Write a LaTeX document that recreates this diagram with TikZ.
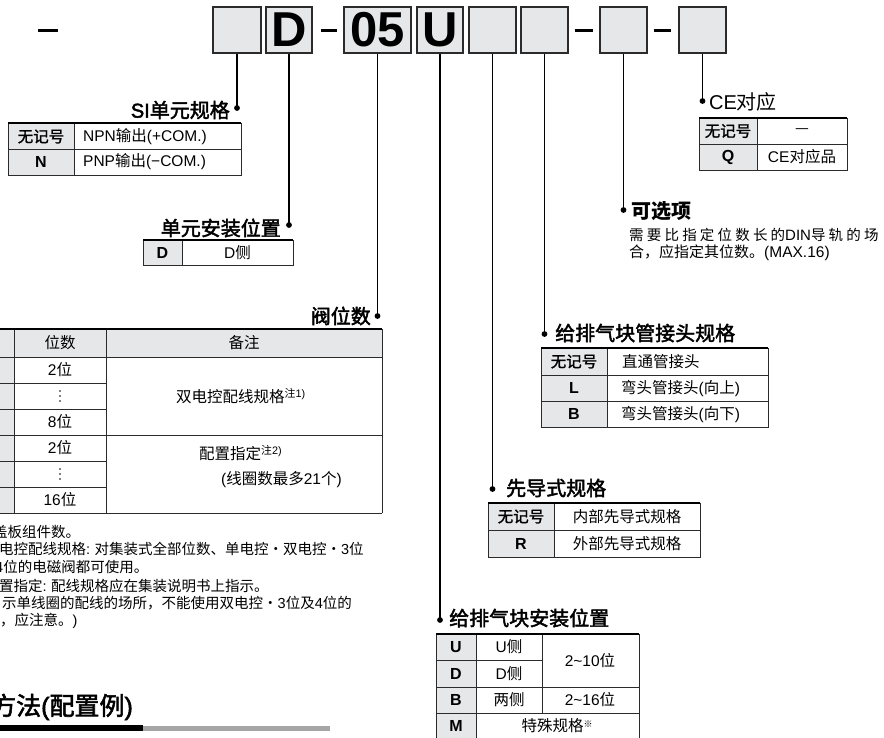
\documentclass[tikz,border=0pt]{standalone}
\usepackage{fontspec}
\setmainfont{Noto Sans CJK SC}
\newfontfamily\lat{Liberation Sans}
\newfontfamily\latmed{Liberation Sans}[FakeBold=2.2]
\newfontfamily\cjkmed{Noto Sans CJK SC}[FakeBold=2.2]
\newfontfamily\cjkcell{Noto Sans CJK SC}[FakeBold=1.6]
\newfontfamily\cjksp{Noto Sans CJK SC}[LetterSpace=22]
\definecolor{cellgray}{HTML}{E6E7E8}
\definecolor{boxline}{HTML}{2B2B2B}
\newcommand\fcell{\fontsize{15.5}{18}\selectfont}
\newcommand\fhead{\fontsize{20}{23}\selectfont\cjkmed}
\newcommand\fnote{\fontsize{14.5}{17}\selectfont}
\begin{document}
\begin{tikzpicture}[x=1pt,y=-1pt,
  box/.style={draw=boxline, line width=1.3pt, fill=cellgray, minimum width=#1,
    minimum height=46pt, inner sep=0pt, font=\lat\bfseries\fontsize{49}{49}\selectfont},
  box/.default=47pt,
  conn/.style={draw=black, line width=1.3pt},
  dotfill/.style={fill=black},
  tline/.style={draw=boxline, line width=0.9pt},
  ttop/.style={draw=black, line width=1.7pt},
  head/.style={inner sep=0pt, font=\fhead},
  cell/.style={inner sep=0pt, font=\fcell},
  cellb/.style={inner sep=0pt, font=\fcell\cjkcell},
  letter/.style={inner sep=0pt, font=\lat\bfseries\fontsize{16}{18}\selectfont},
  note/.style={inner sep=0pt, anchor=west, font=\fnote},
  thickdash/.style={draw=black, line width=3pt}
]
\useasboundingbox (0,0) rectangle (884,737);
\clip (0,0) rectangle (884,737);

% ---------- code boxes ----------
\node[box=48pt] (b1) at (237,30) {};
\node[box=46pt] (b2) at (289,30) {D};
\node[box=67pt] (b3) at (377.5,30) {05};
\node[box=46pt] (b4) at (440,30) {U};
\node[box] (b5) at (492.5,30) {};
\node[box] (b6) at (544.5,30) {};
\node[box] (b7) at (623.5,30) {};
\node[box] (b8) at (702.5,30) {};
\coordinate (m0a) at (38,30); \coordinate (m0b) at (58,30);
\draw[thickdash] (m0a) -- (m0b);
\draw[thickdash] ([xshift=8pt]b2.east) -- ([xshift=-6pt]b3.west);
\draw[thickdash] ([xshift=6pt]b6.east) -- ([xshift=-6pt]b7.west);
\draw[thickdash] ([xshift=6pt]b7.east) -- ([xshift=-7pt]b8.west);

% ---------- connector dots ----------
\coordinate (p1) at (237,108);
\coordinate (p2) at (289,225);
\coordinate (p3) at (377.5,316);
\coordinate (p4) at (440,620);
\coordinate (p5) at (492.5,489);
\coordinate (p6) at (544.5,334);
\coordinate (p7) at (623.5,210);
\coordinate (p8) at (702.5,101);
\foreach \i in {1,...,8}{
  \draw[conn] (b\i.south) -- (p\i);
  \fill[dotfill] (p\i) circle (2.9pt);
}

% ---------- SI unit ----------
\node[head, anchor=east] (h1) at (230,110) {{\latmed SI}单元规格};
\fill[cellgray] (8,123) rectangle (74,175);
\draw[tline] (8,123) rectangle (241,175);
\draw[tline] (8,149) -- (241,149);
\draw[tline] (74,123) -- (74,175);
\draw[ttop] (8,123) -- (241,123);
\node[cellb] (c11) at (41,136.5) {无记号};
\node[letter] (c12) at (41,162) {N};
\node[cell, anchor=west] (c13) at (83,136.5) {{\lat NPN}输出{\lat (+COM.)}};
\node[cell, anchor=west] (c14) at (83,162) {{\lat PNP}输出{\lat (−COM.)}};

% ---------- unit mounting ----------
\node[head, anchor=east] (h2) at (281,228) {单元安装位置};
\fill[cellgray] (143,240) rectangle (182,265);
\draw[tline] (143,240) rectangle (293,265);
\draw[tline] (182,240) -- (182,265);
\draw[ttop] (143,240) -- (293,240);
\node[letter] (c21) at (162.5,252.5) {D};
\node[cell] (c22) at (237.5,252.5) {{\lat D}侧};

% ---------- valve stations ----------
\node[head, anchor=east] (h3) at (371,316) {阀位数};
\fill[cellgray] (-40,329) rectangle (382,357);
\fill[cellgray] (-40,357) rectangle (14,513);
\draw[tline] (-40,357) -- (382,357);
\draw[tline] (-40,383) -- (106,383);
\draw[tline] (-40,409) -- (106,409);
\draw[tline] (-40,435) -- (382,435);
\draw[tline] (-40,461) -- (106,461);
\draw[tline] (-40,487) -- (106,487);
\draw[tline] (-40,513) -- (382,513);
\draw[tline] (14,329) -- (14,513);
\draw[tline] (106,329) -- (106,513);
\draw[tline] (382,329) -- (382,513);
\draw[ttop] (-40,329) -- (382,329);
\node[cell] (v0a) at (60,343) {位数};
\node[cell] (v0b) at (244,343) {备注};
\node[cell] (v1) at (60,370) {{\lat 2}位};
\coordinate (v2) at (60,396);
\foreach \dy in {-5,0,5} \fill ([yshift=\dy pt]v2) circle (0.85pt);
\node[cell] (v3) at (60,422) {{\lat 8}位};
\node[cell] (v4) at (60,448) {{\lat 2}位};
\coordinate (v5) at (60,474);
\foreach \dy in {-5,0,5} \fill ([yshift=\dy pt]v5) circle (0.85pt);
\node[cell] (v6) at (60,500) {{\lat 16}位};
\node[cell, anchor=west] (v7) at (176,396) {双电控配线规格\textsuperscript{注{\lat 1)}}};
\node[cell, anchor=west] (v8) at (199,453) {配置指定\textsuperscript{注{\lat 2)}}};
\node[cell, anchor=west] (v9) at (221,480) {{\lat (}线圈数最多{\lat 21}个{\lat )}};

% ---------- notes ----------
\node[note] (n1) at (-7,532) {盖板组件数。};
\node[note] (n2) at (-1,549) {电控配线规格{\lat :} 对集装式全部位数、单电控・双电控・{\lat 3}位};
\node[note] (n3) at (-5,567) {{\lat 4}位的电磁阀都可使用。};
\node[note] (n4) at (-1,586) {置指定{\lat :} 配线规格应在集装说明书上指示。};
\node[note] (n5) at (2,603) {示单线圈的配线的场所，不能使用双电控・{\lat 3}位及{\lat 4}位的};
\node[note] (n6) at (0,621) {，应注意。{\lat )}};

\node[inner sep=0pt, anchor=west, font=\fontsize{25}{28}\selectfont\cjkmed] (t1) at (-9,707) {方法{\latmed (}配置例{\latmed )}};
\fill[black] (-5,725) rectangle (143,731);
\fill[black!35] (143,726) rectangle (330,731);

% ---------- CE ----------
\node[inner sep=0pt, anchor=west, font=\fontsize{20}{23}\selectfont] (h8) at (709,102) {{\lat CE}对应};
\fill[cellgray] (699,118) rectangle (757,170);
\draw[tline] (699,118) rectangle (847,170);
\draw[tline] (699,144) -- (847,144);
\draw[tline] (757,118) -- (757,170);
\draw[ttop] (699,118) -- (847,118);
\node[cellb] (c81) at (728,131) {无记号};
\node[cell] (c82) at (802,131) {—};
\node[letter] (c83) at (728,157) {Q};
\node[cell] (c84) at (802,157) {{\lat CE}对应品};

% ---------- option ----------
\node[inner sep=0pt, anchor=west, font=\fontsize{20}{23}\selectfont\bfseries] (h7) at (631,211) {可选项};
\node[inner sep=0pt, anchor=west, font=\fontsize{14.5}{16}\selectfont] (o1) at (629,235)
  {\cjksp 需要比指定位数长的{\lat\fontsize{15}{16}\selectfont DIN}导轨的场};
\node[inner sep=0pt, anchor=west, font=\fontsize{15}{16}\selectfont] (o2) at (629,253)
  {合，应指定其位数。{\lat\fontsize{15.5}{16}\selectfont (MAX.16)}};

% ---------- fitting ----------
\node[head, anchor=west] (h6) at (555,333) {给排气块管接头规格};
\fill[cellgray] (541,348) rectangle (607,427);
\draw[tline] (541,348) rectangle (768,427);
\draw[tline] (541,375) -- (768,375);
\draw[tline] (541,401) -- (768,401);
\draw[tline] (607,348) -- (607,427);
\draw[ttop] (541,348) -- (768,348);
\node[cellb] (c61) at (574,361.5) {无记号};
\node[cell, anchor=west] (c62) at (622,361.5) {直通管接头};
\node[letter] (c63) at (574,388) {L};
\node[cell, anchor=west] (c64) at (621,388) {弯头管接头{\lat (}向上{\lat )}};
\node[letter] (c65) at (574,414) {B};
\node[cell, anchor=west] (c66) at (621,414) {弯头管接头{\lat (}向下{\lat )}};

% ---------- pilot ----------
\node[head, anchor=west] (h5) at (506,488) {先导式规格};
\fill[cellgray] (488,503) rectangle (554,557);
\draw[tline] (488,503) rectangle (700,557);
\draw[tline] (488,530) -- (700,530);
\draw[tline] (554,503) -- (554,557);
\draw[ttop] (488,503) -- (700,503);
\node[cellb] (c51) at (521,516.5) {无记号};
\node[cell] (c52) at (627,516.5) {内部先导式规格};
\node[letter] (c53) at (521,543.5) {R};
\node[cell] (c54) at (627,543.5) {外部先导式规格};

% ---------- SUP/EXH block mounting ----------
\node[head, anchor=west] (h4) at (449,618) {给排气块安装位置};
\fill[cellgray] (436,634) rectangle (476,745);
\draw[tline] (436,634) rectangle (639,740);
\draw[tline] (436,660) -- (542,660);
\draw[tline] (436,687) -- (639,687);
\draw[tline] (436,713) -- (639,713);
\draw[tline] (476,634) -- (476,740);
\draw[tline] (542,634) -- (542,713);
\draw[ttop] (436,634) -- (639,634);
\node[letter] (c41) at (456,647) {U};
\node[cell] (c42) at (509,647) {{\lat U}侧};
\node[letter] (c43) at (456,673.5) {D};
\node[cell] (c44) at (509,673.5) {{\lat D}侧};
\node[cell] (c45) at (590,660.5) {{\lat 2\textasciitilde 10}位};
\node[letter] (c46) at (456,700) {B};
\node[cell] (c47) at (509,700) {两侧};
\node[cell] (c48) at (590,700) {{\lat 2\textasciitilde 16}位};
\node[letter] (c49) at (456,726) {M};
\node[cell] (c4a) at (557,726) {特殊规格\raisebox{4pt}{\fontsize{9}{9}\selectfont ※}};
\end{tikzpicture}
\end{document}
